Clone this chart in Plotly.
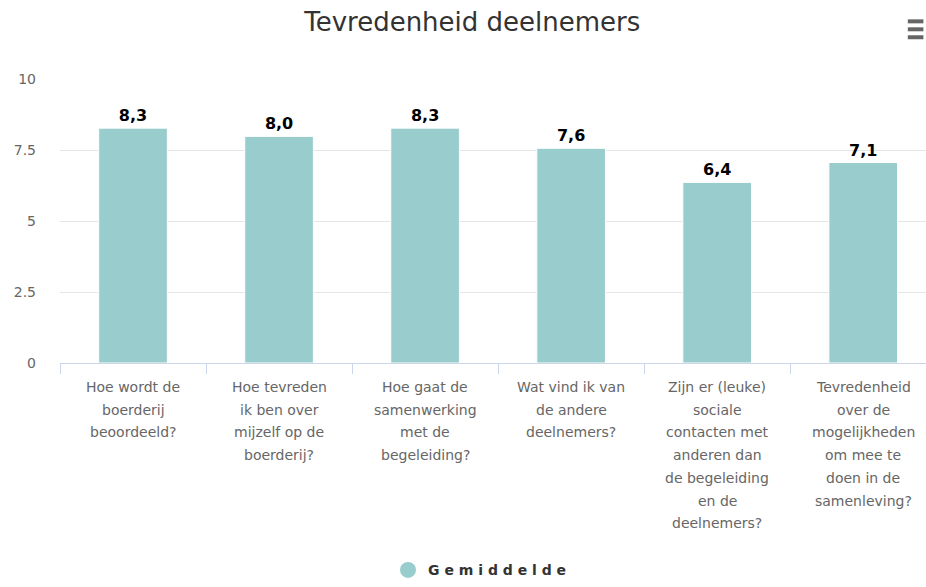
import plotly.graph_objects as go

# Survey questions (line breaks as in the original chart)
categories = [
    ["Hoe wordt de", "boerderij", "beoordeeld?"],
    ["Hoe tevreden", "ik ben over", "mijzelf op de", "boerderij?"],
    ["Hoe gaat de", "samenwerking", "met de", "begeleiding?"],
    ["Wat vind ik van", "de andere", "deelnemers?"],
    ["Zijn er (leuke)", "sociale", "contacten met", "anderen dan", "de begeleiding", "en de", "deelnemers?"],
    ["Tevredenheid", "over de", "mogelijkheden", "om mee te", "doen in de", "samenleving?"],
]
cat_names = [" ".join(c) for c in categories]
gemiddelde = [8.27, 7.98, 8.27, 7.56, 6.36, 7.06]
y_ticks = [0, 2.5, 5, 7.5, 10]

bar_color = "#99cccc"
grey = "#666666"
font_family = "DejaVu Sans, Verdana, sans-serif"

labels = ["<b>" + f"{v:.1f}".replace(".", ",") + "</b>" for v in gemiddelde]

fig = go.Figure()
fig.add_trace(go.Bar(
    x=cat_names,
    y=gemiddelde,
    width=0.47,
    marker=dict(color=bar_color, line=dict(width=1, color="#ffffff")),
    text=labels,
    textposition="outside",
    textfont=dict(size=16, color="#000000", family=font_family),
    cliponaxis=False,
    showlegend=False,
    name="Gemiddelde",
))
# legend entry with a round symbol
fig.add_trace(go.Scatter(
    x=[None], y=[None], mode="markers",
    marker=dict(symbol="circle", size=19, color=bar_color),
    name="<b>G e m i d d e l d e</b>",
))

# category labels, one annotation per line to get the wide line spacing
for name, lines in zip(cat_names, categories):
    for i, line in enumerate(lines):
        fig.add_annotation(
            x=name, xref="x", y=0, yref="paper",
            yanchor="top", yshift=-14 - 22.7 * i,
            text=line, showarrow=False,
            font=dict(size=14, color=grey, family=font_family),
        )

# export menu icon (three bars)
for yy in [1.203, 1.175, 1.147]:
    fig.add_shape(
        type="line", xref="paper", yref="paper",
        x0=0.979, x1=0.997, y0=yy, y1=yy,
        line=dict(color=grey, width=4),
    )

fig.update_xaxes(
    range=[-0.5, 5.43],
    showticklabels=False,
    showgrid=False,
    showline=True, linecolor="#ccd6eb", linewidth=1,
    ticks="outside", tickson="boundaries", ticklen=10, tickcolor="#ccd6eb",
)
fig.update_yaxes(
    range=[0, 10],
    tickvals=y_ticks,
    ticktext=["0", "2.5", "5", "7.5", "10"],
    tickfont=dict(size=14, color=grey, family=font_family),
    gridcolor="#e6e6e6",
    zeroline=False,
    ticklabelstandoff=23,
)

fig.update_layout(
    width=926, height=587,
    margin=dict(l=60, r=0, t=79, b=222),
    paper_bgcolor="#ffffff", plot_bgcolor="#ffffff",
    title=dict(
        text="Tevredenheid deelnemers",
        x=0.51, xanchor="center", y=0.962, yanchor="middle",
        font=dict(size=26, color="#333333", family=font_family),
    ),
    legend=dict(
        orientation="h", x=0.485, xanchor="center", y=-0.73, yanchor="middle",
        font=dict(size=14, color="#333333", family=font_family),
    ),
    bargap=0.53,
)

fig.write_html(
    "out.html",
    config={"displayModeBar": False},
    post_script="document.body.style.margin='0px';",
)
